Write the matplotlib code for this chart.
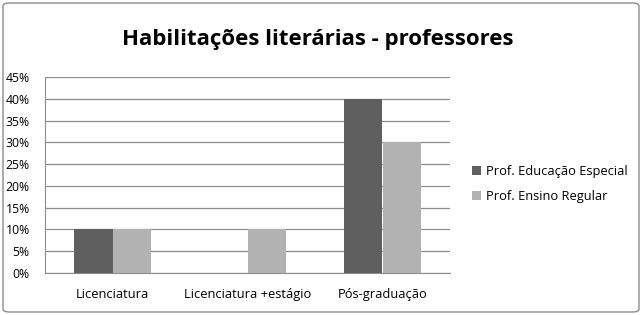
import numpy as np
import matplotlib
matplotlib.use("Agg")
import matplotlib.pyplot as plt
from matplotlib.patches import FancyBboxPatch

plt.rcParams['font.family'] = ['Open Sans', 'DejaVu Sans']

categories = ["Licenciatura", "Licenciatura +estágio", "Pós-graduação"]
series_names = ["Prof. Educação Especial", "Prof. Ensino Regular"]
especial = [10, 0, 40]
regular = [10, 10, 30]
colors = ["#5f5f5f", "#b2b2b2"]

fig = plt.figure(figsize=(6.42, 3.15), dpi=100)
ax = fig.add_axes([45 / 642, 1 - 273 / 315, 405 / 642, 196 / 315])

x = np.arange(len(categories))
w = 0.285
ax.bar(x - w / 2, especial, w, color=colors[0], label=series_names[0], zorder=3)
ax.bar(x + w / 2, regular, w, color=colors[1], label=series_names[1], zorder=3)

ax.set_xlim(-0.5, 2.5)
ax.set_ylim(0, 45)
ax.set_yticks(np.arange(0, 46, 5))
ax.set_yticklabels([f"{v}%" for v in range(0, 46, 5)], fontsize=8.8)
ax.set_xticks(x)
ax.set_xticklabels(categories, fontsize=9.3)
ax.tick_params(axis='y', length=0, pad=11)
ax.tick_params(axis='x', length=0, pad=11)
ax.yaxis.grid(True, color="#8c8c8c", linewidth=0.9, zorder=0)
for s in ["top", "right"]:
    ax.spines[s].set_visible(False)
ax.spines["left"].set_color("#8c8c8c")
ax.spines["bottom"].set_color("#8c8c8c")

fig.text(318 / 642, 1 - 40 / 315, "Habilitações literárias - professores",
         ha="center", va="center", fontsize=16, fontweight="bold")

ax.legend(loc="center left", bbox_to_anchor=(460 / 642, 1 - 184 / 315),
          bbox_transform=fig.transFigure, frameon=False, fontsize=9.3,
          handlelength=0.7, handleheight=0.7, handletextpad=0.4, labelspacing=1.0)

border = FancyBboxPatch((3 / 642, 3 / 315), 636 / 642, 309 / 315,
                        boxstyle="round,pad=0,rounding_size=0.01",
                        transform=fig.transFigure, fill=False,
                        edgecolor="#8c8c8c", linewidth=1)
fig.patches.append(border)

fig.savefig("out.png", dpi=100)
